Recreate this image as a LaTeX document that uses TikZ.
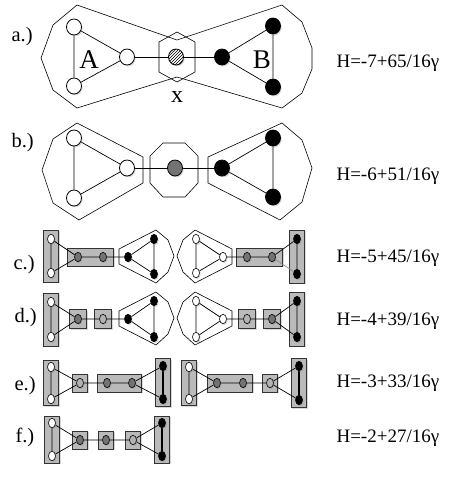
\documentclass[tikz,border=0pt]{standalone}
\usepackage{fontspec}
\setmainfont{Liberation Serif}
\usepackage{tikz}
\usetikzlibrary{shapes.geometric,shadows,patterns,fit}
\pgfdeclarelayer{boxes}
\pgfdeclarelayer{edges}
\pgfsetlayers{boxes,edges,main}
\tikzset{
  nshadow/.style={drop shadow={opacity=0.3,shadow xshift=1.2pt,shadow yshift=-1.4pt}},
  vtx/.style={ellipse,draw,line width=0.8pt,inner sep=0pt,nshadow},
  bigv/.style={vtx,minimum width=15pt,minimum height=16pt},
  smallv/.style={vtx,line width=0.6pt,minimum width=7pt,minimum height=9.5pt},
  wnode/.style={fill=white},
  bnode/.style={fill=black},
  gnode/.style={fill=black!55},
  lgnode/.style={fill=black!30},
  hnode/.style={fill=white,postaction={pattern=north east lines}},
  link/.style={draw,line width=0.7pt},
  thicklink/.style={draw,line width=2pt},
  hull/.style={draw,line width=0.6pt,line join=round},
  grpbox/.style={draw=black!80,fill=black!27,line width=0.7pt,inner sep=4pt,nshadow},
  rowlbl/.style={anchor=base west,font=\fontsize{20.5}{22}\selectfont},
  energy/.style={anchor=base west,font=\fontsize{19}{22}\selectfont}
}
\begin{document}
\begin{tikzpicture}[x=1pt,y=-1pt]
  \useasboundingbox (0,0) rectangle (463,477);

  % a.)
  \node[rowlbl] (la) at (8,41) {a.)};
  \node[bigv,wnode] (aw1) at (74,27) {};
  \node[bigv,wnode] (aw2) at (74,86) {};
  \node[bigv,wnode] (aw3) at (127,57) {};
  \node[bigv,hnode] (ax) at (176,57) {};
  \node[bigv,bnode] (ab1) at (222,57) {};
  \node[bigv,bnode] (ab2) at (273,26) {};
  \node[bigv,bnode] (ab3) at (273,87) {};
  \node[anchor=base,font=\fontsize{27}{30}\selectfont] (tA) at (89,68) {A};
  \node[anchor=base,font=\fontsize{27}{30}\selectfont] (tB) at (262,68) {B};
  \node[anchor=base,font=\fontsize{24}{26}\selectfont] (tx) at (177,102) {x};
  \node[energy] (ha) at (333,67) {H=-7+65/16γ};

  % b.)
  \node[rowlbl] (lb) at (8,147) {b.)};
  \node[bigv,wnode] (bw1) at (74,138) {};
  \node[bigv,wnode] (bw2) at (74,198) {};
  \node[bigv,wnode] (bw3) at (127,168) {};
  \node[bigv,gnode] (bg) at (175,168) {};
  \node[bigv,bnode] (bb1) at (222,168) {};
  \node[bigv,bnode] (bb2) at (273,138) {};
  \node[bigv,bnode] (bb3) at (273,197) {};
  \node[energy] (hb) at (333,180) {H=-6+51/16γ};

  % c.)
  \node[rowlbl] (lc) at (10,269) {c.)};
  \node[smallv,wnode] (cw1) at (51,239) {};
  \node[smallv,wnode] (cw2) at (51,273) {};
  \node[smallv,gnode] (cg1) at (78,257) {};
  \node[smallv,gnode] (cg2) at (103,257) {};
  \node[smallv,bnode] (cb1) at (128,257) {};
  \node[smallv,bnode] (cb2) at (154,239) {};
  \node[smallv,bnode] (cb3) at (154,274) {};
  \node[smallv,wnode] (cw3) at (196,239) {};
  \node[smallv,wnode] (cw4) at (196,273) {};
  \node[smallv,wnode] (cw5) at (223,257) {};
  \node[smallv,gnode] (cg3) at (247,257) {};
  \node[smallv,gnode] (cg4) at (272,257) {};
  \node[smallv,bnode] (cb4) at (297,239) {};
  \node[smallv,bnode] (cb5) at (297,274) {};
  \node[energy] (hc) at (333,262) {H=-5+45/16γ};

  % d.)
  \node[rowlbl] (ld) at (11,322) {d.)};
  \node[smallv,wnode] (dw1) at (51,302) {};
  \node[smallv,wnode] (dw2) at (51,337) {};
  \node[smallv,gnode] (dg1) at (78,319) {};
  \node[smallv,lgnode] (dg2) at (103,319) {};
  \node[smallv,bnode] (db1) at (128,319) {};
  \node[smallv,bnode] (db2) at (154,301) {};
  \node[smallv,bnode] (db3) at (154,337) {};
  \node[smallv,wnode] (dw3) at (196,301) {};
  \node[smallv,wnode] (dw4) at (196,337) {};
  \node[smallv,wnode] (dw5) at (223,319) {};
  \node[smallv,lgnode] (dg3) at (247,319) {};
  \node[smallv,gnode] (dg4) at (272,319) {};
  \node[smallv,bnode] (db4) at (297,301) {};
  \node[smallv,bnode] (db5) at (297,337) {};
  \node[energy] (hd) at (333,325) {H=-4+39/16γ};

  % e.)
  \node[rowlbl] (le) at (11,390) {e.)};
  \node[smallv,wnode] (ew1) at (51,367) {};
  \node[smallv,wnode] (ew2) at (51,399) {};
  \node[smallv,lgnode] (eg1) at (80,383) {};
  \node[smallv,gnode] (eg2) at (107,383) {};
  \node[smallv,gnode] (eg3) at (132,383) {};
  \node[smallv,bnode] (eb1) at (163,366) {};
  \node[smallv,bnode] (eb2) at (163,399) {};
  \node[smallv,wnode] (ew3) at (189,367) {};
  \node[smallv,wnode] (ew4) at (189,399) {};
  \node[smallv,gnode] (eg4) at (217,383) {};
  \node[smallv,gnode] (eg5) at (243,383) {};
  \node[smallv,lgnode] (eg6) at (270,383) {};
  \node[smallv,bnode] (eb3) at (299,366) {};
  \node[smallv,bnode] (eb4) at (299,400) {};
  \node[energy] (he) at (333,387) {H=-3+33/16γ};

  % f.)
  \node[rowlbl] (lf) at (12,442) {f.)};
  \node[smallv,wnode] (fw1) at (52,423) {};
  \node[smallv,wnode] (fw2) at (52,456) {};
  \node[smallv,gnode] (fg1) at (80,440) {};
  \node[smallv,gnode] (fg2) at (106,440) {};
  \node[smallv,lgnode] (fg3) at (133,440) {};
  \node[smallv,bnode] (fb1) at (162,423) {};
  \node[smallv,bnode] (fb2) at (162,456) {};
  \node[energy] (hf) at (333,442) {H=-2+27/16γ};

  \begin{pgfonlayer}{edges}
    \foreach \r in {a,b} {
      \draw[link] (\r w1)--(\r w2) (\r w1)--(\r w3) (\r w2)--(\r w3)
        (\r b1)--(\r b2) (\r b1)--(\r b3) (\r b2)--(\r b3);
    }
    \draw[link] (aw3)--(ax)--(ab1);
    \draw[link] (bw3)--(bg)--(bb1);
    \foreach \r in {c,d} {
      \draw[link] (\r w1)--(\r w2) (\r w1)--(\r g1) (\r w2)--(\r g1)
        (\r g1)--(\r g2)--(\r b1) (\r b1)--(\r b2) (\r b1)--(\r b3) (\r b2)--(\r b3)
        (\r w3)--(\r w4) (\r w3)--(\r w5) (\r w4)--(\r w5) (\r w5)--(\r g3)--(\r g4)
        (\r g4)--(\r b4) (\r b4)--(\r b5);
    }
    \draw[link,draw=black!45] (cg4)--(cb5);
    \draw[link] (dg4)--(db5);
    \draw[link] (ew1)--(ew2) (ew1)--(eg1) (ew2)--(eg1) (eg1)--(eg2)--(eg3)
      (eg3)--(eb1) (eg3)--(eb2);
    \draw[link] (ew3)--(ew4) (ew3)--(eg4) (ew4)--(eg4) (eg4)--(eg5)--(eg6)
      (eg6)--(eb3) (eg6)--(eb4);
    \draw[link,line width=1.3pt] (eb1)--(eb2) (eb3)--(eb4);
    \draw[link] (fw1)--(fw2) (fw1)--(fg1) (fw2)--(fg1) (fg1)--(fg2)--(fg3)
      (fg3)--(fb1) (fg3)--(fb2);
    \draw[thicklink] (fb1)--(fb2);
  \end{pgfonlayer}

  \begin{pgfonlayer}{boxes}
    % hulls
    \draw[hull] (77,5) -- (177,40) -- (282,5) -- (302,22) -- (312,48) -- (312,69)
      -- (302,93) -- (282,108) -- (177,77) -- (77,108) -- (53,90) -- (41,58) -- (53,25) -- cycle;
    \draw[hull] (177,32) -- (195,42) -- (195,72) -- (177,82) -- (159,72) -- (159,42) -- cycle;
    \draw[hull] (77,123) -- (143,157) -- (143,183) -- (79,220) -- (53,203) -- (42,170) -- (53,139) -- cycle;
    \draw[hull] (163,143) -- (185,143) -- (198,156) -- (198,183) -- (185,197) -- (163,197)
      -- (150,183) -- (150,156) -- cycle;
    \draw[hull] (282,123) -- (302,140) -- (312,168) -- (302,202) -- (280,220) -- (208,183)
      -- (208,157) -- cycle;
    \foreach \dy in {0,62} {
      \draw[hull] (119,249+\dy) -- (156,230+\dy) -- (168,240+\dy) -- (174,256+\dy)
        -- (168,272+\dy) -- (156,283+\dy) -- (119,264+\dy) -- cycle;
      \draw[hull] (177,256+\dy) -- (183,240+\dy) -- (195,230+\dy) -- (232,249+\dy)
        -- (232,264+\dy) -- (195,283+\dy) -- (183,272+\dy) -- cycle;
    }
    % group boxes
    \node[grpbox,fit=(cw1)(cw2)] (cbx1) {};
    \node[grpbox,inner xsep=7pt,fit=(cg1)(cg2)] (cbx2) {};
    \node[grpbox,inner xsep=6.5pt,fit=(cg3)(cg4)] (cbx3) {};
    \node[grpbox,fit=(cb4)(cb5)] (cbx4) {};
    \node[grpbox,fit=(dw1)(dw2)] (dbx1) {};
    \node[grpbox,inner sep=4.5pt,fit=(dg1)] (dbx2) {};
    \node[grpbox,inner sep=4.5pt,fit=(dg2)] (dbx3) {};
    \node[grpbox,inner sep=4.5pt,fit=(dg3)] (dbx4) {};
    \node[grpbox,inner sep=4.5pt,fit=(dg4)] (dbx5) {};
    \node[grpbox,fit=(db4)(db5)] (dbx6) {};
    \node[grpbox,inner ysep=1.5pt,fit=(ew1)(ew2)] (ebx1) {};
    \node[grpbox,fit=(eg1)] (ebx2) {};
    \node[grpbox,inner xsep=5.5pt,fit=(eg2)(eg3)] (ebx3) {};
    \node[grpbox,inner ysep=2.5pt,fit=(eb1)(eb2)] (ebx4) {};
    \node[grpbox,inner ysep=1.5pt,fit=(ew3)(ew4)] (ebx5) {};
    \node[grpbox,inner xsep=5.5pt,fit=(eg4)(eg5)] (ebx6) {};
    \node[grpbox,fit=(eg6)] (ebx7) {};
    \node[grpbox,inner ysep=2.5pt,fit=(eb3)(eb4)] (ebx8) {};
    \node[grpbox,inner ysep=2pt,fit=(fw1)(fw2)] (fbx1) {};
    \node[grpbox,fit=(fg1)] (fbx2) {};
    \node[grpbox,fit=(fg2)] (fbx3) {};
    \node[grpbox,fit=(fg3)] (fbx4) {};
    \node[grpbox,inner ysep=2pt,fit=(fb1)(fb2)] (fbx5) {};
  \end{pgfonlayer}
\end{tikzpicture}
\end{document}
